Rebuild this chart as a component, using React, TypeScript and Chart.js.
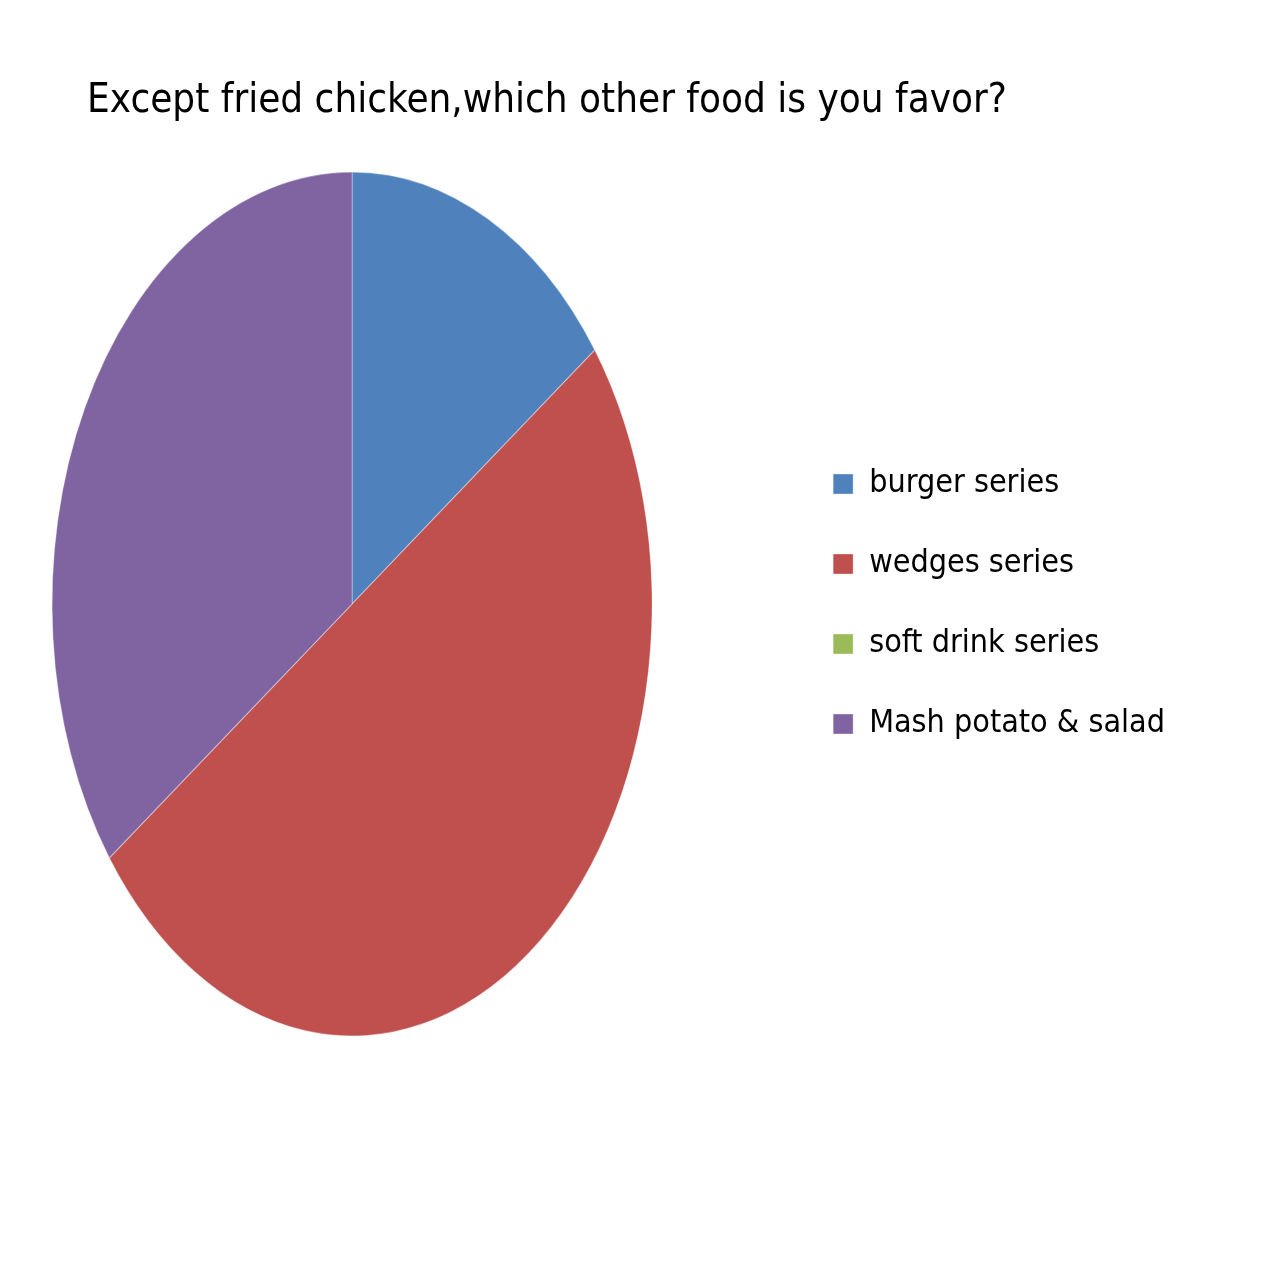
import React, { useEffect, useRef } from 'react';
import { Chart, registerables } from 'chart.js';

Chart.register(...registerables);

const chartTitle = 'Except fried chicken,which other food is you favor?';
const categories = ['burger series', 'wedges series', 'soft drink series', 'Mash potato & salad'];
const votes = [3, 10, 0, 7];
const sliceColors = ['#4F81BD', '#C0504D', '#9BBB59', '#8064A2'];

const FONT = "'DejaVu Sans Condensed', 'Liberation Sans Narrow', sans-serif";
const STRETCH_Y = 1.44; // the original pie is drawn as a tall ellipse

// draws the pie squeezed into an ellipse around the chart area centre
const ellipsePlugin = {
    id: 'ellipsePie',
    beforeDatasetsDraw(chart: Chart) {
        const { ctx, chartArea } = chart;
        const cy = (chartArea.top + chartArea.bottom) / 2;
        ctx.save();
        ctx.translate(0, cy);
        ctx.scale(1, STRETCH_Y);
        ctx.translate(0, -cy);
    },
    afterDatasetsDraw(chart: Chart) {
        chart.ctx.restore();
    },
};

const App: React.FC = () => {
    const canvasRef = useRef<HTMLCanvasElement | null>(null);
    const chartRef = useRef<Chart | null>(null);

    useEffect(() => {
        if (!canvasRef.current) return;
        if (chartRef.current) chartRef.current.destroy();

        chartRef.current = new Chart(canvasRef.current, {
            type: 'pie',
            data: {
                labels: categories,
                datasets: [{
                    data: votes,
                    backgroundColor: sliceColors,
                    borderColor: 'rgba(255,255,255,0.35)',
                    borderWidth: 1,
                    clip: false,
                } as any],
            },
            options: {
                responsive: false,
                animation: false,
                radius: 300,
                layout: { padding: 0 },
                plugins: {
                    title: {
                        display: true,
                        text: chartTitle,
                        align: 'center',
                        color: '#000',
                        font: { family: FONT, size: 40, weight: 'normal' },
                        padding: { top: 78, bottom: 8 },
                    },
                    legend: {
                        position: 'right',
                        fullSize: false,
                        labels: {
                            boxWidth: 20,
                            boxHeight: 20,
                            padding: 48,
                            color: '#000',
                            font: { family: FONT, size: 32 },
                        },
                    },
                    tooltip: { enabled: false },
                },
            },
            plugins: [ellipsePlugin],
        });

        return () => {
            if (chartRef.current) {
                chartRef.current.destroy();
                chartRef.current = null;
            }
        };
    }, []);

    return (
        <div style={{ position: 'fixed', left: 0, top: 0, width: 1264, height: 1264, background: '#fff', overflow: 'hidden' }}>
            <canvas
                ref={canvasRef}
                width={1256}
                height={1074}
                style={{ position: 'absolute', left: -81, top: 0 }}
            />
        </div>
    );
};

export default App;
